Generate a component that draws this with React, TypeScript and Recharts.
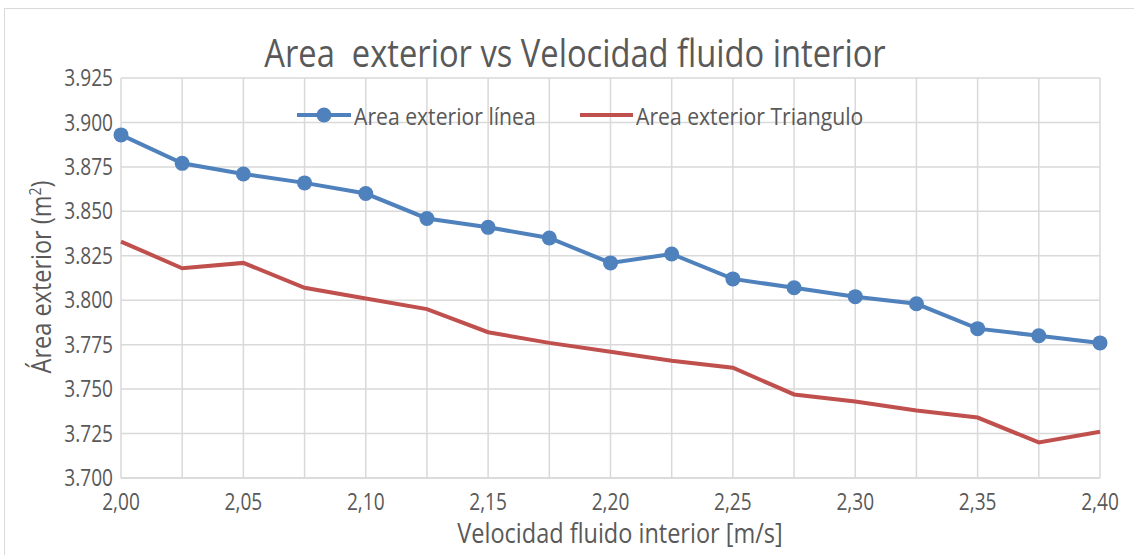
import { LineChart, Line, XAxis, YAxis, CartesianGrid } from 'recharts';

// velocidad fluido interior [m/s]
const velocidades = [
  2.0, 2.025, 2.05, 2.075, 2.1, 2.125, 2.15, 2.175, 2.2,
  2.225, 2.25, 2.275, 2.3, 2.325, 2.35, 2.375, 2.4,
];
const areaLinea = [
  3.893, 3.877, 3.871, 3.866, 3.860, 3.846, 3.841, 3.835, 3.821,
  3.826, 3.812, 3.807, 3.802, 3.798, 3.784, 3.780, 3.776,
];
const areaTriangulo = [
  3.833, 3.818, 3.821, 3.807, 3.801, 3.795, 3.782, 3.776, 3.771,
  3.766, 3.762, 3.747, 3.743, 3.738, 3.734, 3.720, 3.726,
];
const yTicks = [3.7, 3.725, 3.75, 3.775, 3.8, 3.825, 3.85, 3.875, 3.9, 3.925];

const FONT = '"Open Sans", sans-serif';
const TEXT = '#595959';
const BLUE = '#4F81BD';
const RED = '#C0504D';
const GRID = '#d9d9d9';

const data = velocidades.map((v, i) => ({
  v,
  linea: areaLinea[i],
  triangulo: areaTriangulo[i],
}));

const fmtX = (v: number) => {
  const i = velocidades.findIndex((x) => Math.abs(x - v) < 1e-6);
  return i % 2 === 0 ? v.toFixed(2).replace('.', ',') : '';
};

// the reference uses a narrow font, so squeeze Open Sans horizontally
const SQ = 0.83;

const XTick = ({ x, y, payload }: any) => (
  <text
    x={x}
    y={y}
    dy="0.71em"
    textAnchor="middle"
    fill={TEXT}
    fontSize={23}
    fontFamily={FONT}
    transform={`translate(${x},0) scale(${SQ},1) translate(${-x},0)`}
  >
    {fmtX(payload.value)}
  </text>
);

const YTick = ({ x, y, payload }: any) => (
  <text
    x={x}
    y={y}
    dy="0.355em"
    textAnchor="end"
    fill={TEXT}
    fontSize={23}
    fontFamily={FONT}
    transform={`translate(${x},0) scale(${SQ},1) translate(${-x},0)`}
  >
    {payload.value.toFixed(3)}
  </text>
);

export default function App() {
  return (
    <div style={{ position: 'absolute', left: 0, top: 0, width: 1134, height: 555, background: '#fff', fontFamily: FONT, overflow: 'hidden' }}>
      <div style={{ position: 'absolute', left: 4, top: 8, width: 1140, height: 560, border: `1px solid ${GRID}` }} />
      <LineChart
        width={1134}
        height={555}
        data={data}
        margin={{ top: 78, right: 34, left: 0, bottom: 27 }}
      >
        <CartesianGrid stroke={GRID} strokeWidth={1.5} />
        <XAxis
          dataKey="v"
          type="number"
          domain={[2.0, 2.4]}
          ticks={velocidades}
          height={50}
          tickLine={false}
          tickSize={0}
          tickMargin={16}
          axisLine={{ stroke: GRID, strokeWidth: 1.5 }}
          tick={<XTick />}
        />
        <YAxis
          type="number"
          domain={[3.7, 3.925]}
          ticks={yTicks}
          width={121}
          tickLine={false}
          tickSize={0}
          tickMargin={8}
          axisLine={false}
          tick={<YTick />}
        />
        <Line
          dataKey="linea"
          stroke={BLUE}
          strokeWidth={4}
          dot={{ r: 7.5, fill: BLUE, stroke: BLUE, strokeWidth: 0 }}
          isAnimationActive={false}
        />
        <Line
          dataKey="triangulo"
          stroke={RED}
          strokeWidth={4}
          dot={false}
          isAnimationActive={false}
        />
      </LineChart>

      <div style={{ position: 'absolute', left: 575, top: 28, transform: 'translateX(-50%) scaleX(0.86)', fontSize: 38, color: TEXT, whiteSpace: 'pre', lineHeight: 1.3 }}>
        {'Area  exterior vs Velocidad fluido interior'}
      </div>

      {/* legend */}
      <svg style={{ position: 'absolute', left: 297, top: 104 }} width={56} height={22}>
        <line x1={0} y1={11} x2={54} y2={11} stroke={BLUE} strokeWidth={4} />
        <circle cx={27} cy={11} r={7.5} fill={BLUE} />
      </svg>
      <div style={{ position: 'absolute', left: 354, top: 100, transformOrigin: 'left center', transform: 'scaleX(0.92)', fontSize: 23, color: TEXT, whiteSpace: 'nowrap' }}>Area exterior línea</div>
      <svg style={{ position: 'absolute', left: 580, top: 104 }} width={56} height={22}>
        <line x1={0} y1={11} x2={53} y2={11} stroke={RED} strokeWidth={4} />
      </svg>
      <div style={{ position: 'absolute', left: 636, top: 100, transformOrigin: 'left center', transform: 'scaleX(0.92)', fontSize: 23, color: TEXT, whiteSpace: 'nowrap' }}>Area exterior Triangulo</div>

      <div style={{ position: 'absolute', left: 620, top: 517, transform: 'translateX(-50%) scaleX(0.87)', fontSize: 27, lineHeight: 1.2, color: TEXT, whiteSpace: 'nowrap' }}>
        Velocidad fluido interior [m/s]
      </div>
      <div style={{ position: 'absolute', left: 41, top: 277, transform: 'translate(-50%, -50%) rotate(-90deg) scaleX(0.87)', fontSize: 27, lineHeight: 1.2, color: TEXT, whiteSpace: 'nowrap' }}>
        Área exterior (m<sup style={{ fontSize: 16 }}>2</sup>)
      </div>
    </div>
  );
}
